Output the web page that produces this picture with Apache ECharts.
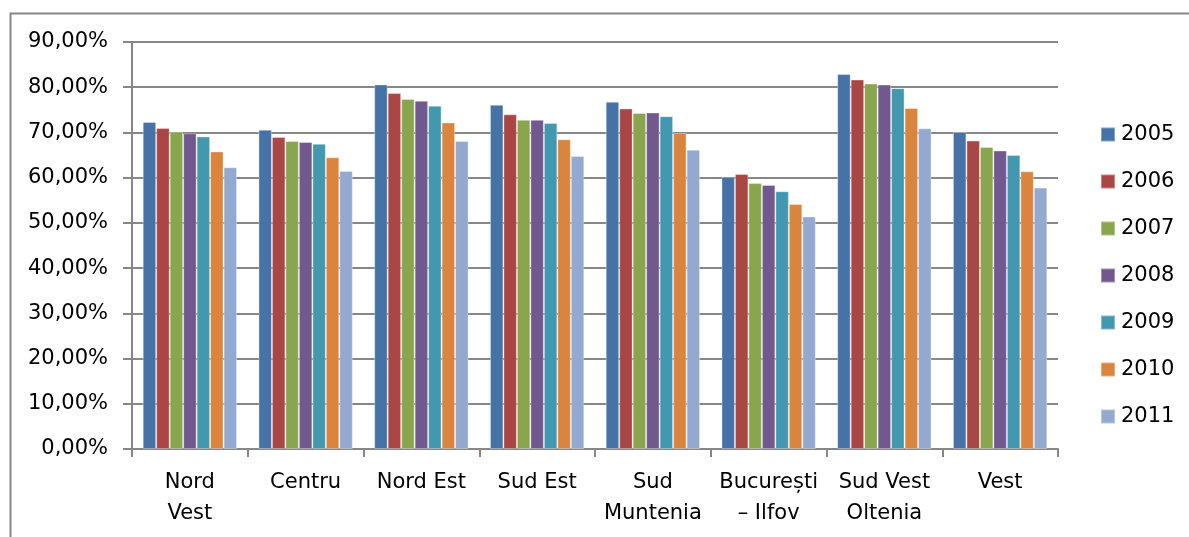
<!DOCTYPE html>
<html>
<head>
<meta charset="utf-8">
<script src="https://cdn.jsdelivr.net/npm/echarts@6/dist/echarts.min.js"></script>
<style>html,body{margin:0;padding:0;background:#fff}#c{width:1189px;height:537px}</style>
</head>
<body>
<div id="c"></div>
<script>
const categories = ['Nord Vest','Centru','Nord Est','Sud Est','Sud Muntenia','București – Ilfov','Sud Vest Oltenia','Vest'];
const categoryLabels = ['Nord\nVest','Centru','Nord Est','Sud Est','Sud\nMuntenia','București\n– Ilfov','Sud Vest\nOltenia','Vest'];
const years = ['2005','2006','2007','2008','2009','2010','2011'];
const v2005 = [72.3, 70.6, 80.6, 76.1, 76.8, 60.2, 82.9, 70.1];
const v2006 = [71.0, 69.0, 78.7, 74.0, 75.3, 60.8, 81.7, 68.2];
const v2007 = [70.2, 68.1, 77.4, 72.8, 74.3, 58.8, 80.8, 66.8];
const v2008 = [69.8, 67.9, 77.0, 72.8, 74.4, 58.4, 80.6, 66.0];
const v2009 = [69.1, 67.5, 75.9, 72.1, 73.6, 57.0, 79.8, 65.0];
const v2010 = [65.8, 64.5, 72.2, 68.5, 69.9, 54.2, 75.4, 61.4];
const v2011 = [62.3, 61.5, 68.1, 64.8, 66.2, 51.4, 70.9, 57.8];
const yTicks = [0,10,20,30,40,50,60,70,80,90];
const colors = ['#4572A7','#AA4643','#89A54E','#71588F','#4198AF','#DB843D','#93A9CF'];
const seriesValues = [v2005,v2006,v2007,v2008,v2009,v2010,v2011];

const chart = echarts.init(document.getElementById('c'));
const font = 'DejaVu Sans';
chart.setOption({
  animation: false,
  color: colors,
  textStyle: {fontFamily: font},
  graphic: [{
    type: 'rect', left: 8, top: 11,
    shape: {width: 1200, height: 600},
    style: {fill: 'none', stroke: '#878787', lineWidth: 2},
    silent: true
  }],
  grid: {left: 132, right: 131, top: 42, bottom: 88, containLabel: false},
  legend: {
    orient: 'vertical', left: 1100, top: 124, padding: 0,
    itemWidth: 14, itemHeight: 14, itemGap: 26,
    icon: 'rect',
    textStyle: {fontFamily: font, fontSize: 21, color: '#000', padding: [0,0,0,1]},
    data: years
  },
  xAxis: {
    type: 'category',
    data: categories,
    axisLine: {lineStyle: {color: '#878787', width: 2}},
    axisTick: {show: true, length: 8, alignWithLabel: false, lineStyle: {color: '#878787', width: 2}},
    axisLabel: {
      interval: 0, margin: 18, color: '#000', fontFamily: font, fontSize: 21, lineHeight: 31,
      formatter: function (v) { return categoryLabels[categories.indexOf(v)]; }
    }
  },
  yAxis: {
    type: 'value', min: 0, max: 90, interval: 10,
    axisLine: {show: true, lineStyle: {color: '#878787', width: 2}},
    axisTick: {show: true, length: 9, lineStyle: {color: '#878787', width: 2}},
    splitLine: {show: true, lineStyle: {color: '#878787', width: 2}},
    axisLabel: {
      margin: 24, color: '#000', fontFamily: font, fontSize: 21,
      formatter: function (v) { return v.toFixed(2).replace('.', ',') + '%'; }
    }
  },
  series: years.map(function (y, i) {
    return {
      name: y, type: 'bar', data: seriesValues[i],
      barGap: 0, barCategoryGap: '18.5%',
      itemStyle: {color: colors[i], borderColor: 'rgba(255,255,255,0.35)', borderWidth: 1}
    };
  })
});
</script>
</body>
</html>
